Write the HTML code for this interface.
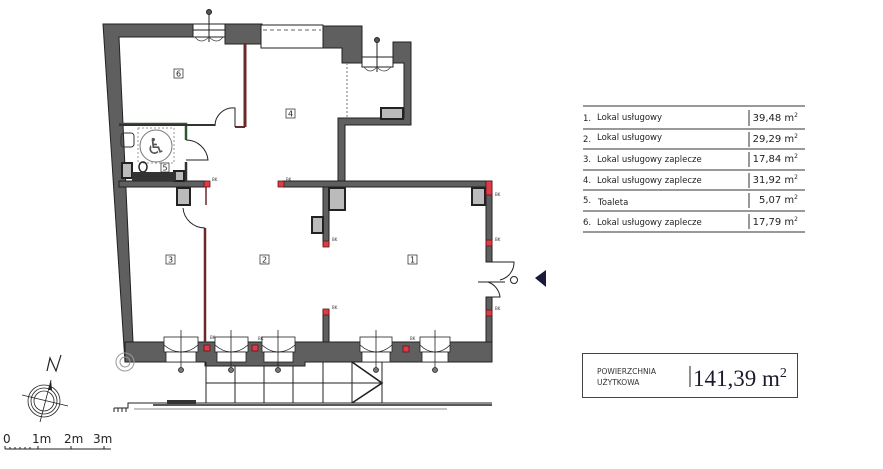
<!DOCTYPE html>
<html><head><meta charset="utf-8"><style>
html,body{margin:0;padding:0;background:#fff;}
svg{display:block;}
text{font-family:"DejaVu Sans","Liberation Sans",sans-serif;}
.s{font-family:"Liberation Serif",serif;}
</style></head><body>
<svg width="883" height="469" viewBox="0 0 883 469" xmlns="http://www.w3.org/2000/svg">
<g fill="#5f5f5f" stroke="#222" stroke-width="1">
<!-- left wall -->
<polygon points="103,24 193,24 193,37 119,37 133,342 133,362 125,362"/>
<!-- top walls -->
<polygon points="225,24 262,24 262,44 225,44"/>
<polygon points="323,26 362,26 362,63 342,63 342,48 323,48"/>
<polygon points="393,42 411,42 411,125 345,125 345,181 338,181 338,118 404,118 404,63 393,63"/>
<!-- middle walls -->
<rect x="119" y="181" width="87" height="6"/>
<rect x="283" y="181" width="209" height="6"/>
<rect x="486" y="181" width="6" height="81"/>
<rect x="486" y="297" width="6" height="65"/>
<rect x="323" y="187" width="6" height="58"/>
<rect x="323" y="310" width="6" height="32"/>
<!-- bottom wall -->
<polygon points="125,342 492,342 492,362 305,362 305,366 205,366 205,362 125,362"/>
</g>
<!-- hatched columns -->
<g fill="#bbb" stroke="#222" stroke-width="2">
<rect x="329" y="188" width="16" height="22"/>
<rect x="312" y="217" width="11" height="16"/>
<rect x="177" y="188" width="13" height="17"/>
<rect x="472" y="188" width="13" height="17"/>
<rect x="381" y="108" width="22" height="11"/>
<rect x="122" y="163" width="10" height="15"/>
<rect x="174" y="171" width="10" height="10"/>
</g>
<!-- top windows -->
<rect x="261" y="25" width="62" height="23" fill="#fff" stroke="#222"/>
<line x1="263" y1="30" x2="321" y2="30" stroke="#666" stroke-dasharray="4,3"/>
<rect x="193" y="24" width="32" height="13" fill="#fff" stroke="#222"/>
<line x1="193" y1="30" x2="225" y2="30" stroke="#222"/>
<line x1="209" y1="12" x2="209" y2="42" stroke="#222"/>
<circle cx="209" cy="12" r="2.5" fill="#555" stroke="#222"/>
<path d="M195,37 Q201,45 209,37 M223,37 Q217,45 209,37" fill="none" stroke="#444" stroke-width=".7"/>
<rect x="362" y="57" width="31" height="10" fill="#fff" stroke="#222"/>
<line x1="377" y1="40" x2="377" y2="72" stroke="#222"/>
<circle cx="377" cy="40" r="2.5" fill="#555" stroke="#222"/>
<path d="M364,67 Q370,75 377,67 M391,67 Q384,75 377,67" fill="none" stroke="#444" stroke-width=".7"/>
<line x1="347" y1="63" x2="347" y2="118" stroke="#777" stroke-dasharray="2,2"/>
<!-- partitions -->
<line x1="245" y1="44" x2="245" y2="127" stroke="#6a2a2a" stroke-width="3"/>
<line x1="235" y1="127" x2="245" y2="127" stroke="#6a2a2a" stroke-width="2"/>
<path d="M235,127 L235,108 A18,18 0 0 0 215,126" fill="none" stroke="#222"/>
<polyline points="119,124 186,124 186,140" fill="none" stroke="#2d5a2d" stroke-width="2.5"/>
<line x1="186" y1="162" x2="186" y2="181" stroke="#333" stroke-width="2.5"/>
<line x1="119" y1="125" x2="215" y2="125" stroke="#333" stroke-width="2" />
<path d="M186,140 A22,22 0 0 1 208,160 L186,160" fill="none" stroke="#222"/>
<line x1="205" y1="228" x2="205" y2="342" stroke="#6a2a2a" stroke-width="2.5"/>
<line x1="206" y1="187" x2="206" y2="205" stroke="#6a2a2a" stroke-width="1.5"/>
<path d="M205,228 A22,22 0 0 1 183,208" fill="none" stroke="#222"/>
<!-- toilet -->
<rect x="138" y="128" width="36" height="35" fill="none" stroke="#999" stroke-dasharray="2,2"/>
<circle cx="156" cy="146" r="16" fill="none" stroke="#777"/>
<text x="156" y="154" font-size="22" text-anchor="middle" fill="#555">♿</text>
<rect x="121" y="133" width="13" height="14" fill="none" stroke="#333" rx="3"/>
<ellipse cx="143" cy="167" rx="4" ry="5" fill="none" stroke="#222" stroke-width="1.5"/>
<rect x="132" y="172" width="44" height="9" fill="#333"/>
<!-- right door -->
<path d="M492,262 L514,262 A18,18 0 0 1 500,280 M492,297 L500,297 A18,18 0 0 0 488,282" fill="none" stroke="#222"/>
<line x1="478" y1="282" x2="505" y2="282" stroke="#222"/>
<circle cx="514" cy="280" r="3.5" fill="#fff" stroke="#222"/>
<!-- bottom windows -->
<g stroke="#222" fill="#fff" stroke-width=".8">
<g><rect x="164" y="337" width="34" height="15"/><rect x="166" y="352" width="30" height="10"/><path d="M164,345 Q172,352 181,352 Q190,352 198,345" fill="none"/><line x1="181" y1="330" x2="181" y2="368"/><circle cx="181" cy="370" r="2.5" fill="#777"/></g>
<g><rect x="215" y="337" width="33" height="15"/><rect x="217" y="352" width="29" height="10"/><path d="M215,345 Q223,352 231,352 Q240,352 248,345" fill="none"/><line x1="231" y1="330" x2="231" y2="368"/><circle cx="231" cy="370" r="2.5" fill="#777"/></g>
<g><rect x="262" y="337" width="33" height="15"/><rect x="264" y="352" width="29" height="10"/><path d="M262,345 Q270,352 278,352 Q287,352 295,345" fill="none"/><line x1="278" y1="330" x2="278" y2="368"/><circle cx="278" cy="370" r="2.5" fill="#777"/></g>
<g><rect x="360" y="337" width="32" height="15"/><rect x="362" y="352" width="28" height="10"/><path d="M360,345 Q368,352 376,352 Q384,352 392,345" fill="none"/><line x1="376" y1="330" x2="376" y2="368"/><circle cx="376" cy="370" r="2.5" fill="#777"/></g>
<g><rect x="420" y="337" width="30" height="15"/><rect x="422" y="352" width="26" height="10"/><path d="M420,345 Q427,352 435,352 Q443,352 450,345" fill="none"/><line x1="435" y1="330" x2="435" y2="368"/><circle cx="435" cy="370" r="2.5" fill="#777"/></g>
</g>
<!-- red squares -->
<g fill="#e03a44" stroke="#5a1a1a" stroke-width=".8">
<rect x="204" y="181" width="6" height="6"/><rect x="278" y="181" width="6" height="6"/>
<rect x="486" y="181" width="6" height="14"/><rect x="486" y="240" width="6" height="6"/>
<rect x="486" y="310" width="6" height="6"/><rect x="323" y="241" width="6" height="6"/>
<rect x="323" y="309" width="6" height="6"/><rect x="204" y="345" width="6" height="6"/>
<rect x="252" y="345" width="6" height="6"/><rect x="403" y="346" width="6" height="6"/>
</g>
<g font-size="4" fill="#333"><text x="212" y="181">BK</text><text x="286" y="181">BK</text><text x="495" y="196">BK</text><text x="495" y="241">BK</text><text x="495" y="310">BK</text><text x="332" y="241">BK</text><text x="332" y="309">BK</text><text x="210" y="339">BK</text><text x="258" y="340">BK</text><text x="410" y="340">BK</text></g>
<!-- terrace -->
<g stroke="#222" stroke-width="1" fill="none">
<line x1="206" y1="362" x2="206" y2="403"/><line x1="235" y1="366" x2="235" y2="403"/><line x1="264" y1="366" x2="264" y2="403"/><line x1="293" y1="366" x2="293" y2="403"/><line x1="323" y1="362" x2="323" y2="403"/><line x1="352" y1="362" x2="352" y2="403"/><line x1="382" y1="362" x2="382" y2="403"/>
<line x1="206" y1="383" x2="382" y2="383"/>
<polyline points="352,362 382,383 352,403" stroke-width="1.6"/>
<polyline points="114,408 128,408 128,403 492,403"/>
<line x1="153" y1="405" x2="492" y2="405" stroke-width="1.5"/>
<line x1="134" y1="409" x2="447" y2="409" stroke="#888"/>
<path d="M114,408 v4 M118,408 v4 M122,408 v4 M126,408 v4"/>
</g>
<rect x="167" y="400" width="29" height="4" fill="#333"/>
<circle cx="125" cy="362" r="9" fill="none" stroke="#999"/><circle cx="125" cy="362" r="5" fill="none" stroke="#999"/>
<!-- room labels -->
<g font-size="8" text-anchor="middle" fill="#222">
<rect x="174" y="69" width="9" height="9" fill="#fff" stroke="#222" stroke-width=".7"/><text x="178.5" y="76.5">6</text>
<rect x="286" y="109" width="9" height="9" fill="#fff" stroke="#222" stroke-width=".7"/><text x="290.5" y="116.5">4</text>
<rect x="161" y="163" width="8" height="9" fill="#fff" stroke="#222" stroke-width=".7"/><text x="165" y="170.5">5</text>
<rect x="166" y="255" width="9" height="9" fill="#fff" stroke="#222" stroke-width=".7"/><text x="170.5" y="262.5">3</text>
<rect x="260" y="255" width="9" height="9" fill="#fff" stroke="#222" stroke-width=".7"/><text x="264.5" y="262.5">2</text>
<rect x="408" y="255" width="9" height="9" fill="#fff" stroke="#222" stroke-width=".7"/><text x="412.5" y="262.5">1</text>
</g>
<!-- arrow marker -->
<polygon points="535,278 546,270 546,287" fill="#1a1a3a"/>
<!-- table -->
<g stroke="#333" stroke-width="1">
<line x1="583" y1="106" x2="805" y2="106"/><line x1="583" y1="129" x2="805" y2="129"/><line x1="583" y1="149" x2="805" y2="149"/><line x1="583" y1="170" x2="805" y2="170"/><line x1="583" y1="190" x2="805" y2="190"/><line x1="583" y1="211" x2="805" y2="211"/><line x1="583" y1="232" x2="805" y2="232"/>
<line x1="749" y1="110" x2="749" y2="126"/><line x1="749" y1="132" x2="749" y2="147"/><line x1="749" y1="152" x2="749" y2="167"/><line x1="749" y1="173" x2="749" y2="188"/><line x1="749" y1="193" x2="749" y2="208"/><line x1="749" y1="214" x2="749" y2="229"/>
</g>
<g font-size="8.5" fill="#222">
<text x="583" y="121">1.</text><text x="597" y="120">Lokal usługowy</text>
<text x="583" y="142">2.</text><text x="597" y="140">Lokal usługowy</text>
<text x="583" y="162">3.</text><text x="597" y="162">Lokal usługowy zaplecze</text>
<text x="583" y="183">4.</text><text x="597" y="183">Lokal usługowy zaplecze</text>
<text x="583" y="203">5.</text><text x="598" y="205">Toaleta</text>
<text x="583" y="225">6.</text><text x="597" y="225">Lokal usługowy zaplecze</text>
</g>
<g class="s" font-size="10" fill="#222" text-anchor="end">
<text x="798" y="121">39,48 m<tspan font-size="6" dy="-4">2</tspan></text>
<text x="798" y="142">29,29 m<tspan font-size="6" dy="-4">2</tspan></text>
<text x="798" y="162">17,84 m<tspan font-size="6" dy="-4">2</tspan></text>
<text x="798" y="183">31,92 m<tspan font-size="6" dy="-4">2</tspan></text>
<text x="798" y="203">5,07 m<tspan font-size="6" dy="-4">2</tspan></text>
<text x="798" y="225">17,79 m<tspan font-size="6" dy="-4">2</tspan></text>
</g>
<!-- area box -->
<rect x="582.5" y="353.5" width="215" height="44" fill="none" stroke="#444"/>
<text x="597" y="374" font-size="7.5" fill="#333">POWIERZCHNIA</text>
<text x="597" y="385" font-size="7.5" fill="#333">UŻYTKOWA</text>
<line x1="690" y1="366" x2="690" y2="387" stroke="#222"/>
<text class="s" x="693" y="386" font-size="23" fill="#1a1a2a">141,39 m<tspan font-size="14" dy="-9">2</tspan></text>
<!-- compass -->
<g fill="none" stroke="#222" stroke-width=".8">
<circle cx="44" cy="401" r="10"/><circle cx="44" cy="401" r="13"/><circle cx="44" cy="401" r="16"/>
<line x1="22" y1="395" x2="68" y2="406"/><line x1="51" y1="380" x2="40" y2="422"/>
<polyline points="47,371 50,358 56,371 61,355" stroke-width="1.2"/>
</g>
<polygon points="51,380 48,390 52,390" fill="#222"/>
<!-- scale -->
<g font-size="12" fill="#222" font-family="Liberation Sans">
<text x="3" y="443">0</text><text x="32" y="443">1m</text><text x="64" y="443">2m</text><text x="93" y="443">3m</text>
</g>
<line x1="5" y1="449" x2="111" y2="449" stroke="#222"/>
<path d="M5,446v3 M38,446v3 M71,446v3 M104,446v3 M10,447v2 M15,447v2 M20,447v2 M25,447v2 M30,447v2" stroke="#222"/>
</svg>
</body></html>
